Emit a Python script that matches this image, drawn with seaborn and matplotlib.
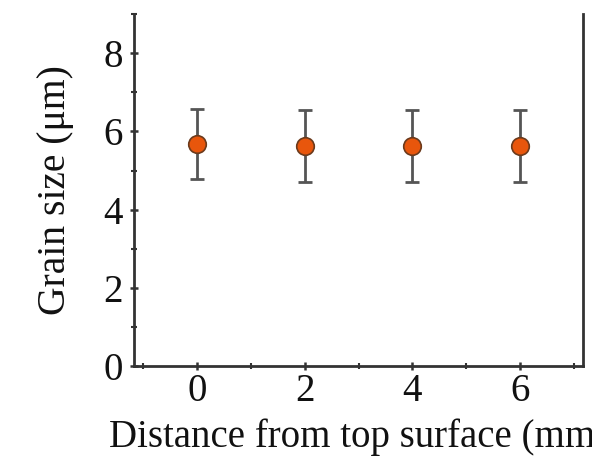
import matplotlib
matplotlib.use("Agg")
import matplotlib.pyplot as plt
import seaborn as sns
import pandas as pd
from matplotlib.ticker import MultipleLocator

distance = [0, 2, 4, 6]
grain_size = [5.68, 5.63, 5.63, 5.63]
grain_err = [0.9, 0.92, 0.92, 0.92]

df = pd.DataFrame({"distance": distance, "grain": grain_size, "err": grain_err})

sns.set_style("ticks")
plt.rcParams["font.family"] = ["Liberation Serif", "DejaVu Serif"]

fig = plt.figure(figsize=(5.92, 4.57), dpi=100)
ax = fig.add_axes([0.2264, 0.199, 0.7586, 0.770])

ax.errorbar(df["distance"], df["grain"], yerr=df["err"], fmt="none",
            ecolor="#555555", elinewidth=2, capsize=5, capthick=2, zorder=2)
sns.scatterplot(data=df, x="distance", y="grain", ax=ax, s=160,
                color="#E8560C", edgecolor="#6b3a1c", linewidth=1.2, zorder=3,
                legend=False)

ax.set_xlim(-1.17, 7.17)
ax.set_ylim(0, 9)
ax.xaxis.set_major_locator(MultipleLocator(2))
ax.xaxis.set_minor_locator(MultipleLocator(1))
ax.yaxis.set_major_locator(MultipleLocator(2))
ax.yaxis.set_minor_locator(MultipleLocator(1))

for s in ["left", "bottom", "right"]:
    ax.spines[s].set_linewidth(2)
    ax.spines[s].set_color("#333333")
ax.spines["top"].set_visible(False)

ax.tick_params(axis="both", which="major", length=6, width=1.8, color="#333333",
               labelsize=28, direction="inout", labelcolor="#111111")
ax.tick_params(axis="both", which="minor", length=4, width=1.5, color="#333333",
               direction="inout")
ax.tick_params(axis="x", which="major", pad=2)
ax.tick_params(axis="y", which="major", pad=5)
ax.tick_params(axis="y", which="both", right=False)

ax.set_xlabel("Distance from top surface (mm)", fontsize=28, labelpad=6,
              color="#111111")
ax.set_ylabel("Grain size (μm)", fontsize=28.5, labelpad=21, color="#111111")

fig.savefig("out.png", dpi=100)
